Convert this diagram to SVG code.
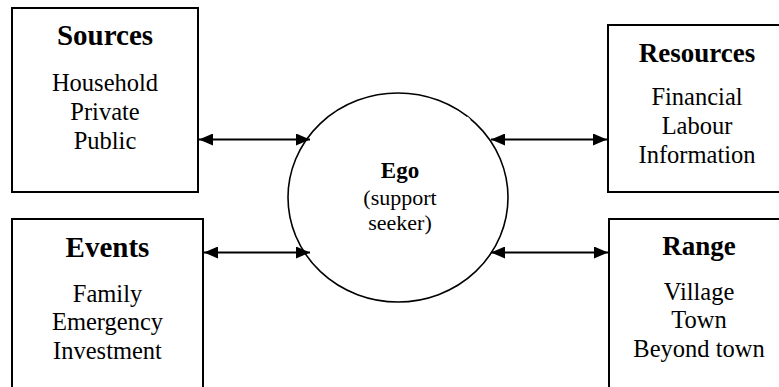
<svg xmlns="http://www.w3.org/2000/svg" width="779" height="387" viewBox="0 0 779 387">
  <defs>
    <marker id="ah" viewBox="0 0 14 12" refX="14" refY="6" markerWidth="14" markerHeight="12" markerUnits="userSpaceOnUse" orient="auto-start-reverse">
      <path d="M0,0 L14,6 L0,12 z" fill="#000"/>
    </marker>
  </defs>
  <style>
    .box { fill: #fff; stroke: #000; stroke-width: 2; }
    .ego { fill: #fff; stroke: #000; stroke-width: 1.6; }
    .t { font-family: "Liberation Serif", "Times New Roman", serif; fill: #000; text-anchor: middle; }
    .title { font-weight: bold; }
    .item { font-size: 24.5px; }
    .conn { stroke: #000; stroke-width: 1.8; fill: none; marker-start: url(#ah); marker-end: url(#ah); }
  </style>
  <rect width="779" height="387" fill="#fff"/>

  <g id="sources">
    <rect class="box" x="12" y="8" width="186" height="184"/>
    <text class="t title" x="105" y="45" font-size="29">Sources</text>
    <text class="t item" x="105" y="91">Household</text>
    <text class="t item" x="105" y="120">Private</text>
    <text class="t item" x="105" y="148.5">Public</text>
  </g>

  <g id="events">
    <rect class="box" x="12" y="219" width="191" height="172"/>
    <text class="t title" x="107.5" y="256.5" font-size="29">Events</text>
    <text class="t item" x="107.5" y="301.5">Family</text>
    <text class="t item" x="107.5" y="330">Emergency</text>
    <text class="t item" x="107.5" y="358.5">Investment</text>
  </g>

  <g id="resources">
    <rect class="box" x="608" y="25" width="180" height="167"/>
    <text class="t title" x="697" y="61.5" font-size="27">Resources</text>
    <text class="t item" x="697" y="105">Financial</text>
    <text class="t item" x="697" y="133.5">Labour</text>
    <text class="t item" x="697" y="162.5">Information</text>
  </g>

  <g id="range">
    <rect class="box" x="609" y="219" width="180" height="172"/>
    <text class="t title" x="699" y="255" font-size="27">Range</text>
    <text class="t item" x="699" y="299.5">Village</text>
    <text class="t item" x="699" y="327.5">Town</text>
    <text class="t item" x="699" y="356.5">Beyond town</text>
  </g>

  <g id="ego">
    <ellipse class="ego" cx="398" cy="197.5" rx="110" ry="104.5"/>
    <path d="M466.5,117.5 L469.5,120.5" stroke="#fff" stroke-width="3"/>
    <text class="t title" x="400" y="177.5" font-size="23">Ego</text>
    <text class="t" x="400" y="205" font-size="22">(support</text>
    <text class="t" x="400" y="230" font-size="22">seeker)</text>
  </g>

  <g id="connectors">
    <line class="conn" x1="199" y1="139.5" x2="310" y2="139.5"/>
    <line class="conn" x1="204" y1="252.5" x2="310" y2="252.5"/>
    <line class="conn" x1="491" y1="139.5" x2="607" y2="139.5"/>
    <line class="conn" x1="491" y1="252.5" x2="608" y2="252.5"/>
  </g>
</svg>
